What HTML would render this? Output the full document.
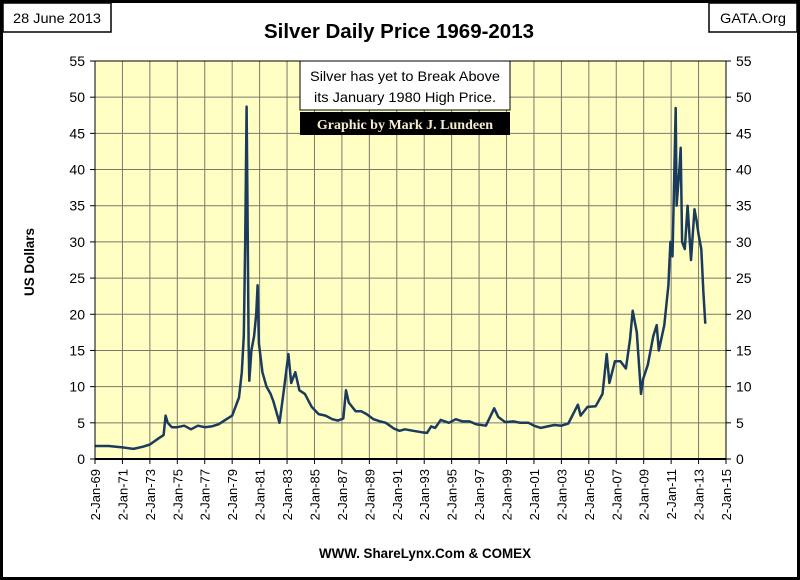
<!DOCTYPE html>
<html><head><meta charset="utf-8"><style>
body{margin:0;background:#fff}
#wrap{position:relative;width:800px;height:580px;overflow:hidden;font-family:"Liberation Sans",sans-serif}
</style></head><body>
<div id="wrap">
<svg id="svg" width="800" height="580">
<rect x="1.5" y="1.5" width="797" height="577" fill="#fff" stroke="#000" stroke-width="3"/>
<rect x="3" y="3" width="108" height="29" fill="#fff" stroke="#000" stroke-width="1.5"/>
<text x="57" y="23" font-size="14" text-anchor="middle" textLength="88" lengthAdjust="spacingAndGlyphs">28 June 2013</text>
<rect x="709" y="3" width="88" height="29" fill="#fff" stroke="#000" stroke-width="1.5"/>
<text x="753" y="23" font-size="14" text-anchor="middle" textLength="66" lengthAdjust="spacingAndGlyphs">GATA.Org</text>
<text x="399" y="38" font-size="20" font-weight="bold" text-anchor="middle" textLength="270" lengthAdjust="spacingAndGlyphs">Silver Daily Price 1969-2013</text>
<rect x="95" y="61" width="631" height="398" fill="#ffffc4"/>
<g id="grid"></g>
<g id="series"></g>
<rect x="95" y="61" width="631" height="398" fill="none" stroke="#000" stroke-width="1"/>
<line x1="95" y1="459" x2="726" y2="459" stroke="#000" stroke-width="2"/>
<g id="ticks"></g>
<rect x="300" y="61" width="210" height="49" fill="#fff" stroke="#000"/>
<text x="405" y="81" font-size="14" text-anchor="middle" textLength="190" lengthAdjust="spacingAndGlyphs">Silver has yet to Break Above</text>
<text x="405" y="102" font-size="14" text-anchor="middle" textLength="182" lengthAdjust="spacingAndGlyphs">its January 1980 High Price.</text>
<rect x="300" y="112" width="210" height="23" fill="#000"/>
<text x="405" y="129" font-size="14" font-weight="bold" fill="#f3ecd0" text-anchor="middle" font-family="Liberation Serif,serif">Graphic by Mark J. Lundeen</text>
<text transform="translate(34,262) rotate(-90)" font-size="14" font-weight="bold" text-anchor="middle" textLength="68" lengthAdjust="spacingAndGlyphs">US Dollars</text>
<text x="425" y="558" font-size="14" font-weight="bold" text-anchor="middle" textLength="212" lengthAdjust="spacingAndGlyphs">WWW. ShareLynx.Com &amp; COMEX</text>
</svg>
</div>
<script>
const years=[1969,1971,1973,1975,1977,1979,1981,1983,1985,1987,1989,1991,1993,1995,1997,1999,2001,2003,2005,2007,2009,2011,2013,2015];
const xLabels=["2-Jan-69","2-Jan-71","2-Jan-73","2-Jan-75","2-Jan-77","2-Jan-79","2-Jan-81","2-Jan-83","2-Jan-85","2-Jan-87","2-Jan-89","2-Jan-91","2-Jan-93","2-Jan-95","2-Jan-97","2-Jan-99","2-Jan-01","2-Jan-03","2-Jan-05","2-Jan-07","2-Jan-09","2-Jan-11","2-Jan-13","2-Jan-15"];
const yTicks=[0,5,10,15,20,25,30,35,40,45,50,55];
const dates=[1969.0,1970,1971,1971.8,1972.5,1973.0,1973.6,1974.0,1974.15,1974.3,1974.6,1975,1975.5,1976,1976.5,1977,1977.5,1978,1978.5,1979,1979.5,1979.7,1979.85,1979.95,1980.05,1980.1,1980.2,1980.25,1980.4,1980.6,1980.75,1980.85,1980.95,1981.2,1981.5,1981.8,1982.0,1982.45,1982.7,1983.1,1983.3,1983.6,1983.9,1984.3,1984.8,1985.3,1985.8,1986.3,1986.7,1987.1,1987.3,1987.5,1988.0,1988.4,1988.8,1989.3,1989.8,1990.2,1990.8,1991.2,1991.6,1992.2,1992.8,1993.2,1993.5,1993.8,1994.2,1994.8,1995.3,1995.8,1996.3,1996.8,1997.5,1998.1,1998.4,1998.9,1999.5,2000,2000.6,2001,2001.5,2002,2002.5,2003,2003.5,2004.2,2004.4,2004.9,2005.5,2006.0,2006.3,2006.5,2006.9,2007.3,2007.7,2008.0,2008.2,2008.5,2008.8,2008.95,2009.3,2009.7,2009.95,2010.1,2010.5,2010.8,2010.95,2011.1,2011.33,2011.4,2011.6,2011.7,2011.8,2012.0,2012.2,2012.45,2012.7,2012.85,2013.0,2013.2,2013.35,2013.49];
const prices=[1.8,1.8,1.6,1.4,1.7,2.0,2.8,3.3,6.0,5.0,4.4,4.4,4.6,4.1,4.6,4.4,4.5,4.8,5.4,6.0,8.5,12,17,30,48.7,38,16,10.8,15,17,20,24,16,12,10,9,8,5.0,8.5,14.5,10.5,12,9.5,9,7.2,6.2,6.0,5.5,5.3,5.6,9.5,7.8,6.6,6.6,6.2,5.5,5.2,5.0,4.2,3.9,4.1,3.9,3.7,3.6,4.5,4.3,5.4,5.0,5.5,5.2,5.2,4.8,4.6,7.0,5.8,5.1,5.2,5.0,5.0,4.6,4.3,4.5,4.7,4.6,4.9,7.5,6.0,7.2,7.3,9.0,14.5,10.5,13.5,13.5,12.5,16.5,20.5,17.5,9.0,11,13,17,18.5,15,18.5,24,30,28,48.5,35,40,43,30,29,35,27.5,34.5,33,31,29,23,18.7];
const NS="http://www.w3.org/2000/svg";
const X0=95,X1=726,Y0=459,Y1=61;
function xs(y){return X0+(y-1969)/(2015-1969)*(X1-X0);}
function ys(v){return Y0-v/55*(Y0-Y1);}
function mk(tag,attrs,parent){const e=document.createElementNS(NS,tag);for(const k in attrs)e.setAttribute(k,attrs[k]);parent.appendChild(e);return e;}
const grid=document.getElementById('grid'),ticks=document.getElementById('ticks'),series=document.getElementById('series');
yTicks.forEach(v=>{
 const l=mk('line',{x1:X0,x2:X1,y1:ys(v),y2:ys(v),stroke:'#7a7a6a','stroke-width':1},grid);
 
 
 const t1=mk('line',{x1:X0-5,x2:X0,y1:ys(v),y2:ys(v),stroke:'#000'},ticks);
 
 
 const t2=mk('line',{x1:X1,x2:X1+5,y1:ys(v),y2:ys(v),stroke:'#000'},ticks);
 
 
 const a=mk('text',{x:X0-10,y:ys(v)+5,'font-size':14,'text-anchor':'end'},ticks);a.textContent=v;
 
 
 const b=mk('text',{x:X1+10,y:ys(v)+5,'font-size':14},ticks);b.textContent=v;
 
 
});
years.forEach((yr,i)=>{
 const x=xs(yr);
 const l=mk('line',{x1:x,x2:x,y1:Y1,y2:Y0,stroke:'#7a7a6a','stroke-width':1},grid);
 
 
 const t=mk('line',{x1:x,x2:x,y1:Y0,y2:Y0+5,stroke:'#000'},ticks);
 
 
 const tx=mk('text',{transform:`translate(${x+5},${Y0+10}) rotate(-90)`,'font-size':13,'text-anchor':'end'},ticks);
 tx.textContent=xLabels[i];
 
 
});
const p=mk('polyline',{points:dates.map((d,i)=>xs(d).toFixed(1)+','+ys(prices[i]).toFixed(1)).join(' '),fill:'none',stroke:'#1a3a5e','stroke-width':2.5,'stroke-linejoin':'round'},series);


</script>
</body></html>
